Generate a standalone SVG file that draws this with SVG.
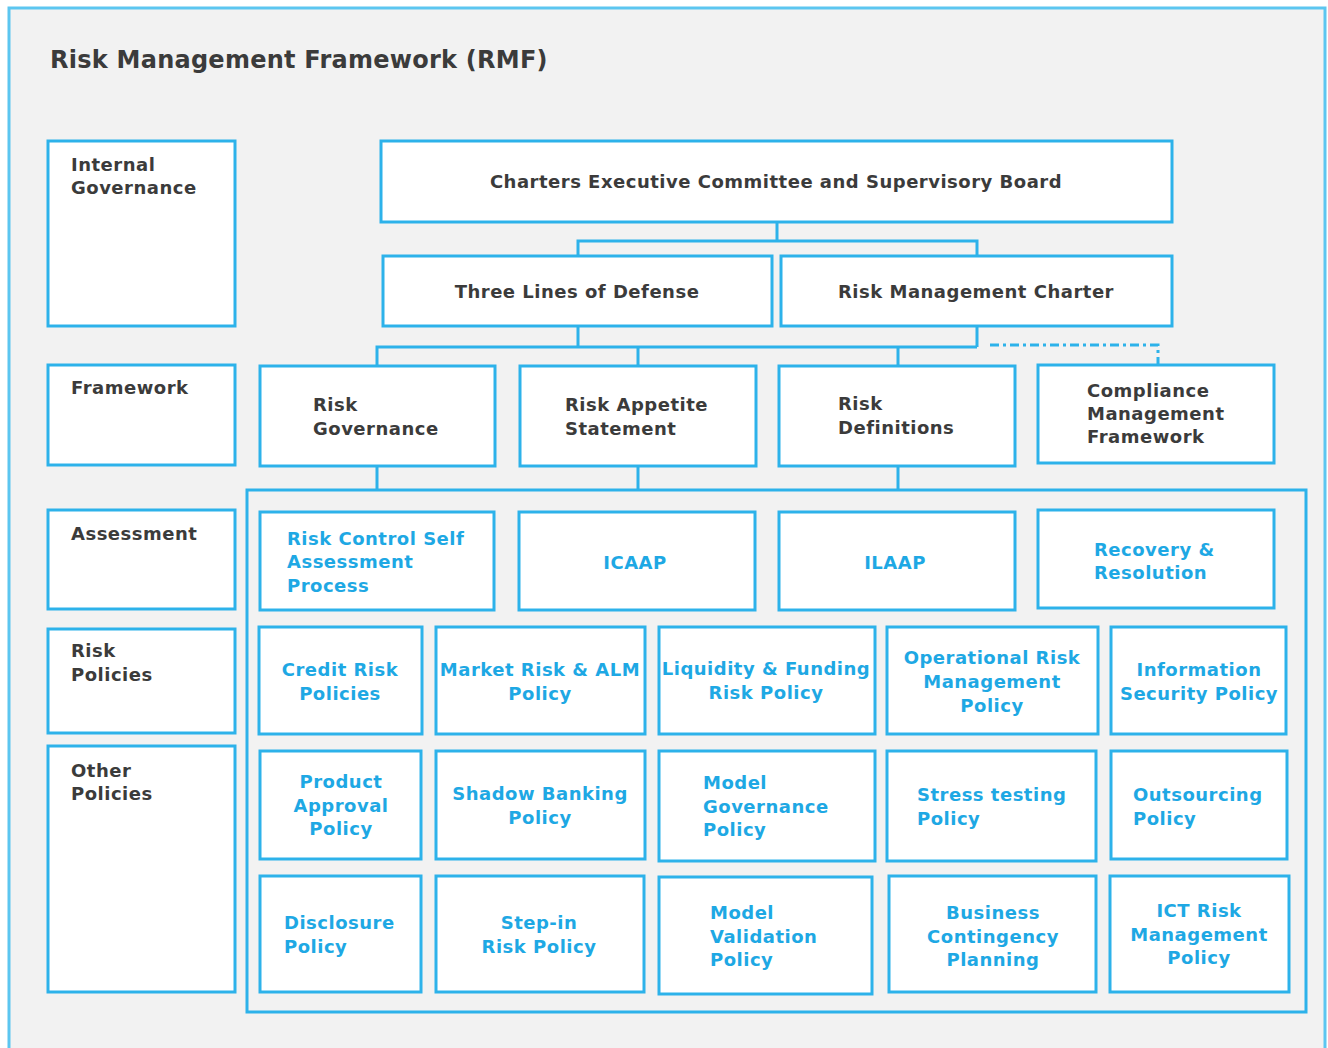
<svg xmlns="http://www.w3.org/2000/svg" width="1328" height="1048" viewBox="0 0 1328 1048">
  <defs>
    <style>
      .frame { fill: #f2f2f2; stroke: #5cc6f0; stroke-width: 3; }
      .box { fill: #ffffff; stroke: #2db2ea; stroke-width: 3; }
      .group { fill: none; stroke: #2db2ea; stroke-width: 3; }
      .wire { fill: none; stroke: #2db2ea; stroke-width: 3; }
      .dash { fill: none; stroke: #2db2ea; stroke-width: 3; stroke-dasharray: 9 4 3 4; }
      text { font-family: "DejaVu Sans", Verdana, sans-serif; font-weight: bold; font-size: 18px; letter-spacing: 0.5px; }
      .dark { fill: #3b3b3b; }
      .blue { fill: #1ea8e4; }
      .title { font-size: 24px; letter-spacing: 0.25px; fill: #3b3b3b; }
      .c { text-anchor: middle; }
    </style>
  </defs>

  <rect width="1328" height="1048" fill="#ffffff"/>
  <rect class="frame" x="9" y="8" width="1316" height="1060"/>
  <text class="title" x="50" y="68">Risk Management Framework (RMF)</text>

  <!-- connectors -->
  <g id="connectors">
    <path class="wire" d="M777 222 V241 M578 256 V241 H977 V256"/>
    <path class="wire" d="M578 326 V347 M977 326 V347 M377 366 V347 H977 M638 366 V347 M898 366 V347"/>
    <path class="dash" d="M990 345 H1158 V365"/>
    <path class="wire" d="M377 466 V490 M638 466 V490 M898 466 V490"/>
  </g>

  <!-- left column: layer labels -->
  <g id="lbl-internal-governance">
    <rect class="box" x="48" y="141" width="187" height="185"/>
    <text class="dark" x="71" y="171">Internal</text>
    <text class="dark" x="71" y="194">Governance</text>
  </g>
  <g id="lbl-framework">
    <rect class="box" x="48" y="365" width="187" height="100"/>
    <text class="dark" x="71" y="394">Framework</text>
  </g>
  <g id="lbl-assessment">
    <rect class="box" x="48" y="510" width="187" height="99"/>
    <text class="dark" x="71" y="540">Assessment</text>
  </g>
  <g id="lbl-risk-policies">
    <rect class="box" x="48" y="629" width="187" height="104"/>
    <text class="dark" x="71" y="657">Risk</text>
    <text class="dark" x="71" y="681">Policies</text>
  </g>
  <g id="lbl-other-policies">
    <rect class="box" x="48" y="746" width="187" height="246"/>
    <text class="dark" x="71" y="777">Other</text>
    <text class="dark" x="71" y="800">Policies</text>
  </g>

  <!-- internal governance -->
  <g id="charters">
    <rect class="box" x="381" y="141" width="791" height="81"/>
    <text class="dark c" x="776" y="188">Charters Executive Committee and Supervisory Board</text>
  </g>
  <g id="three-lines">
    <rect class="box" x="383" y="256" width="389" height="70"/>
    <text class="dark c" x="577" y="298">Three Lines of Defense</text>
  </g>
  <g id="rm-charter">
    <rect class="box" x="781" y="256" width="391" height="70"/>
    <text class="dark c" x="976" y="298">Risk Management Charter</text>
  </g>

  <!-- framework -->
  <g id="risk-governance">
    <rect class="box" x="260" y="366" width="235" height="100"/>
    <text class="dark" x="313" y="411">Risk</text>
    <text class="dark" x="313" y="435">Governance</text>
  </g>
  <g id="risk-appetite">
    <rect class="box" x="520" y="366" width="236" height="100"/>
    <text class="dark" x="565" y="411">Risk Appetite</text>
    <text class="dark" x="565" y="435">Statement</text>
  </g>
  <g id="risk-definitions">
    <rect class="box" x="779" y="366" width="236" height="100"/>
    <text class="dark" x="838" y="410">Risk</text>
    <text class="dark" x="838" y="434">Definitions</text>
  </g>
  <g id="compliance">
    <rect class="box" x="1038" y="365" width="236" height="98"/>
    <text class="dark" x="1087" y="397">Compliance</text>
    <text class="dark" x="1087" y="420">Management</text>
    <text class="dark" x="1087" y="443">Framework</text>
  </g>

  <!-- container of assessment and policies -->
  <rect id="policy-area" class="group" x="247" y="490" width="1059" height="522"/>

  <!-- assessment -->
  <g id="rcsa">
    <rect class="box" x="260" y="512" width="234" height="98"/>
    <text class="blue" x="287" y="545">Risk Control Self</text>
    <text class="blue" x="287" y="568">Assessment</text>
    <text class="blue" x="287" y="592">Process</text>
  </g>
  <g id="icaap">
    <rect class="box" x="519" y="512" width="236" height="98"/>
    <text class="blue c" x="635" y="569">ICAAP</text>
  </g>
  <g id="ilaap">
    <rect class="box" x="779" y="512" width="236" height="98"/>
    <text class="blue c" x="895" y="569">ILAAP</text>
  </g>
  <g id="recovery">
    <rect class="box" x="1038" y="510" width="236" height="98"/>
    <text class="blue" x="1094" y="556">Recovery &amp;</text>
    <text class="blue" x="1094" y="579">Resolution</text>
  </g>

  <!-- risk policies -->
  <g id="credit-risk">
    <rect class="box" x="259" y="627" width="163" height="107"/>
    <text class="blue c" x="340" y="676">Credit Risk</text>
    <text class="blue c" x="340" y="700">Policies</text>
  </g>
  <g id="market-risk">
    <rect class="box" x="436" y="627" width="209" height="107"/>
    <text class="blue c" x="540" y="676">Market Risk &amp; ALM</text>
    <text class="blue c" x="540" y="700">Policy</text>
  </g>
  <g id="liquidity">
    <rect class="box" x="659" y="627" width="216" height="107"/>
    <text class="blue c" x="766" y="675">Liquidity &amp; Funding</text>
    <text class="blue c" x="766" y="699">Risk Policy</text>
  </g>
  <g id="operational">
    <rect class="box" x="887" y="627" width="211" height="107"/>
    <text class="blue c" x="992" y="664">Operational Risk</text>
    <text class="blue c" x="992" y="688">Management</text>
    <text class="blue c" x="992" y="712">Policy</text>
  </g>
  <g id="info-security">
    <rect class="box" x="1111" y="627" width="175" height="107"/>
    <text class="blue c" x="1199" y="676">Information</text>
    <text class="blue c" x="1199" y="700">Security Policy</text>
  </g>

  <!-- other policies, first row -->
  <g id="product-approval">
    <rect class="box" x="260" y="751" width="161" height="108"/>
    <text class="blue c" x="341" y="788">Product</text>
    <text class="blue c" x="341" y="812">Approval</text>
    <text class="blue c" x="341" y="835">Policy</text>
  </g>
  <g id="shadow-banking">
    <rect class="box" x="436" y="751" width="209" height="108"/>
    <text class="blue c" x="540" y="800">Shadow Banking</text>
    <text class="blue c" x="540" y="824">Policy</text>
  </g>
  <g id="model-governance">
    <rect class="box" x="659" y="751" width="216" height="110"/>
    <text class="blue" x="703" y="789">Model</text>
    <text class="blue" x="703" y="813">Governance</text>
    <text class="blue" x="703" y="836">Policy</text>
  </g>
  <g id="stress-testing">
    <rect class="box" x="887" y="751" width="209" height="110"/>
    <text class="blue" x="917" y="801">Stress testing</text>
    <text class="blue" x="917" y="825">Policy</text>
  </g>
  <g id="outsourcing">
    <rect class="box" x="1111" y="751" width="176" height="108"/>
    <text class="blue" x="1133" y="801">Outsourcing</text>
    <text class="blue" x="1133" y="825">Policy</text>
  </g>

  <!-- other policies, second row -->
  <g id="disclosure">
    <rect class="box" x="260" y="876" width="161" height="116"/>
    <text class="blue" x="284" y="929">Disclosure</text>
    <text class="blue" x="284" y="953">Policy</text>
  </g>
  <g id="step-in">
    <rect class="box" x="436" y="876" width="208" height="116"/>
    <text class="blue c" x="539" y="929">Step-in</text>
    <text class="blue c" x="539" y="953">Risk Policy</text>
  </g>
  <g id="model-validation">
    <rect class="box" x="659" y="877" width="213" height="117"/>
    <text class="blue" x="710" y="919">Model</text>
    <text class="blue" x="710" y="943">Validation</text>
    <text class="blue" x="710" y="966">Policy</text>
  </g>
  <g id="business-contingency">
    <rect class="box" x="889" y="876" width="207" height="116"/>
    <text class="blue c" x="993" y="919">Business</text>
    <text class="blue c" x="993" y="943">Contingency</text>
    <text class="blue c" x="993" y="966">Planning</text>
  </g>
  <g id="ict-risk">
    <rect class="box" x="1110" y="876" width="179" height="116"/>
    <text class="blue c" x="1199" y="917">ICT Risk</text>
    <text class="blue c" x="1199" y="941">Management</text>
    <text class="blue c" x="1199" y="964">Policy</text>
  </g>
</svg>
